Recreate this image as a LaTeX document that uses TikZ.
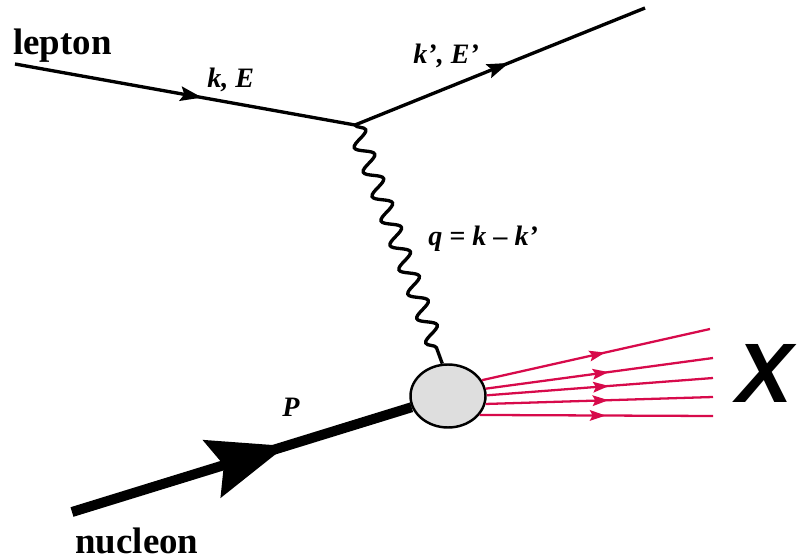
\documentclass[tikz,border=0pt]{standalone}
\usepackage{fontspec}
\setmainfont{Liberation Serif}
\newfontfamily\xfont{Liberation Sans}
\usetikzlibrary{arrows.meta, positioning, decorations.pathmorphing, decorations.markings, shapes.geometric}
\definecolor{hadronred}{RGB}{215,10,75}

\begin{document}
\begin{tikzpicture}[
        x=0.02cm, y=-0.02cm,
        fermion/.style={line width=1.9pt, postaction={decorate},
            decoration={markings, mark=at position #1 with {\arrow{Stealth[length=0.44cm, width=0.3cm, inset=0.08cm, line width=0pt]}}}},
        nucleon/.style={line width=0.2cm, postaction={decorate},
            decoration={markings, mark=at position 0.63 with {\arrow{Stealth[length=1.56cm, width=1.22cm, inset=0.26cm, line width=0pt]}}}},
        hadron/.style={draw=hadronred, line width=1.3pt, postaction={decorate},
            decoration={markings, mark=at position 0.54 with {\arrow[hadronred]{Stealth[length=0.32cm, width=0.22cm, inset=0.06cm, line width=0pt]}}}},
        photon/.style={line width=1.9pt, decorate, decoration={snake, amplitude=0.17cm, segment length=0.52cm, post length=0.12cm}},
        blob/.style={ellipse, draw, line width=1.4pt, fill=black!13, minimum width=1.5cm, minimum height=1.26cm, inner sep=0pt},
        big/.style={font=\fontsize{21}{24}\selectfont\bfseries, inner sep=0pt},
        kin/.style={font=\fontsize{16}{18}\selectfont\bfseries\itshape, inner sep=0pt}
    ]
        \useasboundingbox (0,0) rectangle (797,560);

        % lepton side
        \coordinate (lin) at (15,64);
        \coordinate (vtx) at (355,125);
        \coordinate (lout) at (645,8);
        \draw[fermion=0.55] (lin) -- (vtx);
        \draw[fermion=0.53] (vtx) -- (lout);
        \node[big, anchor=base west] (lep) at (13,55) {lepton};
        \node[kin, anchor=base west] (kE) at (207,88) {k, E};
        \node[kin, anchor=base west] (kEp) at (413,64) {k’, E’};

        % nucleon side
        \node[blob] (blob) at (448,396) {};
        \coordinate (nuc) at (72,512);
        \draw[nucleon] (nuc) -- (blob);
        \node[big, anchor=base west] (nucl) at (75,553) {nucleon};
        \node[kin, anchor=base west] (P) at (282,416) {P};

        % virtual photon
        \draw[photon] (vtx) -- (blob.100);
        \node[kin, anchor=base west] (q) at (428,246) {q = k – k’};

        % final state
        \coordinate (h1) at (710,329);
        \coordinate (h2) at (713,358);
        \coordinate (h3) at (713,378);
        \coordinate (h4) at (713,397);
        \coordinate (h5) at (713,416);
        \foreach \a/\e in {25/h1, 11/h2, 1/h3, -12/h4, -31/h5}
            \draw[hadron] (blob.\a) -- (\e);
        \node[font=\fontsize{48}{52}\selectfont\xfont\bfseries\itshape, inner sep=0pt] (X) at (765,373) {X};
    \end{tikzpicture}
\end{document}
